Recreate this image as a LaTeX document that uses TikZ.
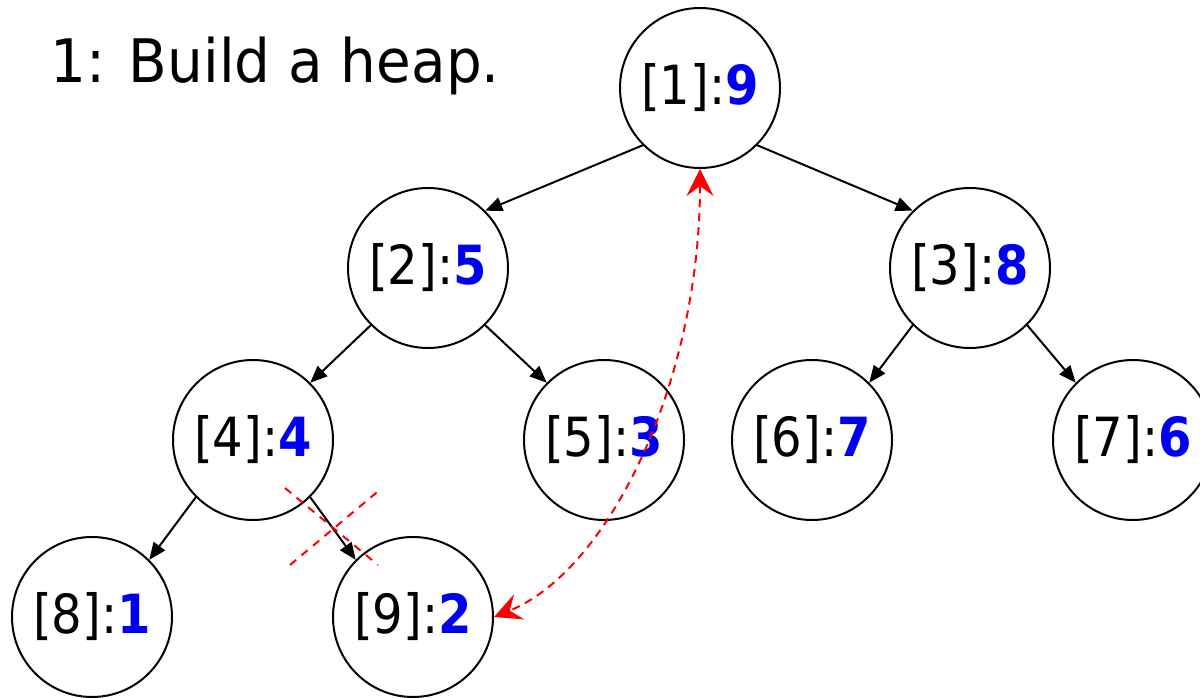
\documentclass[tikz,border=0pt]{standalone}
\usepackage{fontspec}
\usepackage{graphicx}
\setmainfont{DejaVu Sans}
\usetikzlibrary{arrows.meta}
\definecolor{numblue}{RGB}{0,0,240}
\definecolor{swapred}{RGB}{255,0,0}
\tikzset{
  heapnode/.style={circle, draw=black, line width=2pt, minimum size=160pt, inner sep=0pt,
    font=\fontsize{54}{64}\selectfont},
  edge/.style={line width=2pt, -{Triangle[length=17pt,width=14pt]}},
  swap/.style={swapred, line width=2pt, dash pattern=on 8pt off 6pt,
    {Stealth[length=27pt,width=27pt,inset=10pt]}-{Stealth[length=27pt,width=27pt,inset=10pt]}},
  cross/.style={swapred, line width=2pt, dash pattern=on 8pt off 7pt},
  title/.style={font=\fontsize{60}{72}\selectfont, anchor=base west, inner sep=0pt}
}
\newcommand{\hv}[2]{\scalebox{0.89}[1]{[#1]:\textcolor{numblue}{\bfseries #2}}}
\begin{document}
\begin{tikzpicture}[x=1pt,y=-1pt]
\useasboundingbox (0,0) rectangle (1200,698);
\node[title] (t) at (50,83) {\scalebox{0.94}[1]{1: Build a heap.}};
\node[heapnode] (n1) at (700,88) {\hv{1}{9}};
\node[heapnode] (n2) at (428,268) {\hv{2}{5}};
\node[heapnode] (n3) at (970,268) {\hv{3}{8}};
\node[heapnode] (n4) at (253,440) {\hv{4}{4}};
\node[heapnode] (n5) at (604,440) {\hv{5}{3}};
\node[heapnode] (n6) at (812,440) {\hv{6}{7}};
\node[heapnode] (n7) at (1133,440) {\hv{7}{6}};
\node[heapnode] (n8) at (92,617) {\hv{8}{1}};
\node[heapnode] (n9) at (413,617) {\hv{9}{2}};
\draw[edge] (n1.225) -- (n2.45);
\draw[edge] (n1.-45) -- (n3.135);
\draw[edge] (n2.225) -- (n4.45);
\draw[edge] (n2.-45) -- (n5.135);
\draw[edge] (n3.225) -- (n6.45);
\draw[edge] (n3.-45) -- (n7.135);
\draw[edge] (n4.225) -- (n8.45);
\draw[edge] (n4.-45) -- (n9.135);
\coordinate (c1a) at (285,488);
\coordinate (c1b) at (378,565);
\coordinate (c2a) at (290,565);
\coordinate (c2b) at (382,488);
\draw[cross] (c1a) -- (c1b);
\draw[cross] (c2a) -- (c2b);
\draw[swap] (n1.south) .. controls (700,380) and (610,570) .. (n9.east);
\end{tikzpicture}
\end{document}
